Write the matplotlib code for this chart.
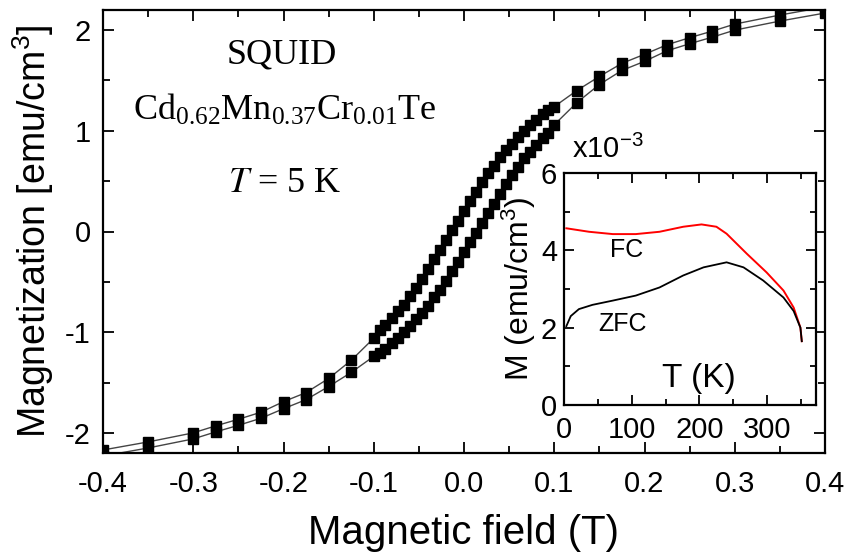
import numpy as np
import matplotlib
matplotlib.use('Agg')
import matplotlib.pyplot as plt
from matplotlib.ticker import MultipleLocator, FormatStrFormatter

plt.rcParams['font.family'] = ['Liberation Sans', 'DejaVu Sans']
plt.rcParams['mathtext.fontset'] = 'stix'
plt.rcParams['mathtext.default'] = 'regular'
plt.rcParams['axes.unicode_minus'] = False

# hysteresis loop at 5 K, field in T, M in emu/cm^3
field = [-0.4, -0.35, -0.3, -0.275, -0.25, -0.225, -0.2, -0.175, -0.15, -0.125,
         -0.1, -0.093, -0.087, -0.08, -0.073, -0.067, -0.06, -0.053, -0.047, -0.04,
         -0.033, -0.027, -0.02, -0.013, -0.007, 0.0, 0.007, 0.013, 0.02, 0.027,
         0.033, 0.04, 0.047, 0.053, 0.06, 0.067, 0.073, 0.08, 0.087, 0.093,
         0.1, 0.125, 0.15, 0.175, 0.2, 0.225, 0.25, 0.275, 0.3, 0.35, 0.4]
# branch coming down from +0.4 T
m_down = [-2.17, -2.09, -2.00, -1.93, -1.865, -1.795, -1.69, -1.60, -1.46, -1.28,
          -1.06, -0.98, -0.93, -0.86, -0.79, -0.73, -0.64, -0.56, -0.47, -0.37,
          -0.27, -0.18, -0.08, 0.01, 0.10, 0.20, 0.30, 0.39, 0.49, 0.58,
          0.655, 0.74, 0.81, 0.87, 0.94, 1.00, 1.055, 1.11, 1.165, 1.21,
          1.24, 1.40, 1.54, 1.67, 1.76, 1.855, 1.925, 1.99, 2.06, 2.15, 2.23]
# branch going up from -0.4 T
m_up = [-2.23, -2.15, -2.06, -1.99, -1.925, -1.855, -1.76, -1.67, -1.54, -1.40,
        -1.24, -1.21, -1.165, -1.11, -1.055, -1.00, -0.94, -0.87, -0.81, -0.74,
        -0.655, -0.58, -0.49, -0.39, -0.30, -0.20, -0.10, -0.01, 0.08, 0.18,
        0.27, 0.37, 0.47, 0.56, 0.64, 0.73, 0.79, 0.86, 0.93, 0.98,
        1.06, 1.28, 1.46, 1.60, 1.69, 1.795, 1.865, 1.93, 2.00, 2.09, 2.17]

# M(T) curves, M in 1e-3 emu/cm^3
t_fc = [3.5, 37, 72, 106, 141, 176, 203, 225, 240, 270, 299, 324, 339, 349, 351]
m_fc = [4.57, 4.48, 4.42, 4.42, 4.48, 4.61, 4.67, 4.61, 4.43, 3.91, 3.43, 2.96, 2.52, 2.0, 1.65]
t_zfc = [3.5, 10, 22, 42, 72, 106, 141, 176, 206, 240, 265, 294, 324, 339, 349, 351]
m_zfc = [2.04, 2.30, 2.48, 2.59, 2.70, 2.83, 3.04, 3.35, 3.56, 3.69, 3.56, 3.22, 2.78, 2.43, 2.0, 1.65]

fig = plt.figure(figsize=(8.57, 5.55), dpi=100)
W, H = 857.0, 555.0

def style_axes(a, size):
    for s in a.spines.values():
        s.set_linewidth(1.6)
    a.tick_params(which='both', direction='in', top=True, right=True, width=1.3, labelsize=size)
    a.tick_params(which='major', length=8)
    a.tick_params(which='minor', length=5)

ax = fig.add_axes([103 / W, 1 - 453 / H, 722 / W, 443 / H])
ax.plot(field, m_down, color='#444444', lw=1.0, marker='s', ms=6.5, mfc='black', mec='black')
ax.plot(field, m_up, color='#444444', lw=1.0, marker='s', ms=6.5, mfc='black', mec='black')
ax.set_xlim(-0.4, 0.4)
ax.set_ylim(-2.2, 2.2)
ax.xaxis.set_major_locator(MultipleLocator(0.1))
ax.xaxis.set_minor_locator(MultipleLocator(0.05))
ax.xaxis.set_major_formatter(FormatStrFormatter('%.1f'))
ax.yaxis.set_major_locator(MultipleLocator(1))
ax.yaxis.set_minor_locator(MultipleLocator(0.5))
style_axes(ax, 21)
ax.tick_params(axis='x', pad=12)
ax.tick_params(axis='y', pad=9)
ax.set_xlabel('Magnetic field (T)', fontsize=29, labelpad=12)
ax.set_ylabel(r'Magnetization [emu/cm$^{3}$]', fontsize=27, labelpad=6)

serif = ['Liberation Serif', 'DejaVu Serif']
ax.text(0.248, 0.898, 'SQUID', transform=ax.transAxes, ha='center', va='center',
        fontsize=26, family=serif)
ax.text(0.252, 0.774, r'Cd$_{0.62}$Mn$_{0.37}$Cr$_{0.01}$Te', transform=ax.transAxes,
        ha='center', va='center', fontsize=26, family=serif)
ax.text(0.252, 0.609, r'$\mathit{T}$ = 5 K', transform=ax.transAxes, ha='center',
        va='center', fontsize=26, family=serif)

# inset: FC / ZFC magnetization vs temperature
ins = fig.add_axes([564 / W, 1 - 405 / H, 252 / W, 232 / H])
ins.plot(t_fc, m_fc, color='red', lw=1.4)
ins.plot(t_zfc, m_zfc, color='black', lw=1.3)
ins.set_xlim(0, 372)
ins.set_ylim(0, 6)
ins.xaxis.set_major_locator(MultipleLocator(100))
ins.xaxis.set_minor_locator(MultipleLocator(50))
ins.yaxis.set_major_locator(MultipleLocator(2))
ins.yaxis.set_minor_locator(MultipleLocator(1))
style_axes(ins, 21)
ins.tick_params(which='major', length=7)
ins.tick_params(which='minor', length=4)
ins.tick_params(axis='x', pad=8)
ins.tick_params(axis='y', pad=5)
ins.set_ylabel(r'M (emu/cm$^{3}$)', fontsize=23, labelpad=2)
ins.text(92, 4.02, 'FC', ha='center', va='center', fontsize=18)
ins.text(87, 2.09, 'ZFC', ha='center', va='center', fontsize=18)
ins.text(199, 0.69, 'T (K)', ha='center', va='center', fontsize=24)
fig.text(572 / W, 1 - 158 / H, r'x10$^{-3}$', fontsize=21, ha='left', va='baseline')

fig.savefig('out.png', dpi=100)
